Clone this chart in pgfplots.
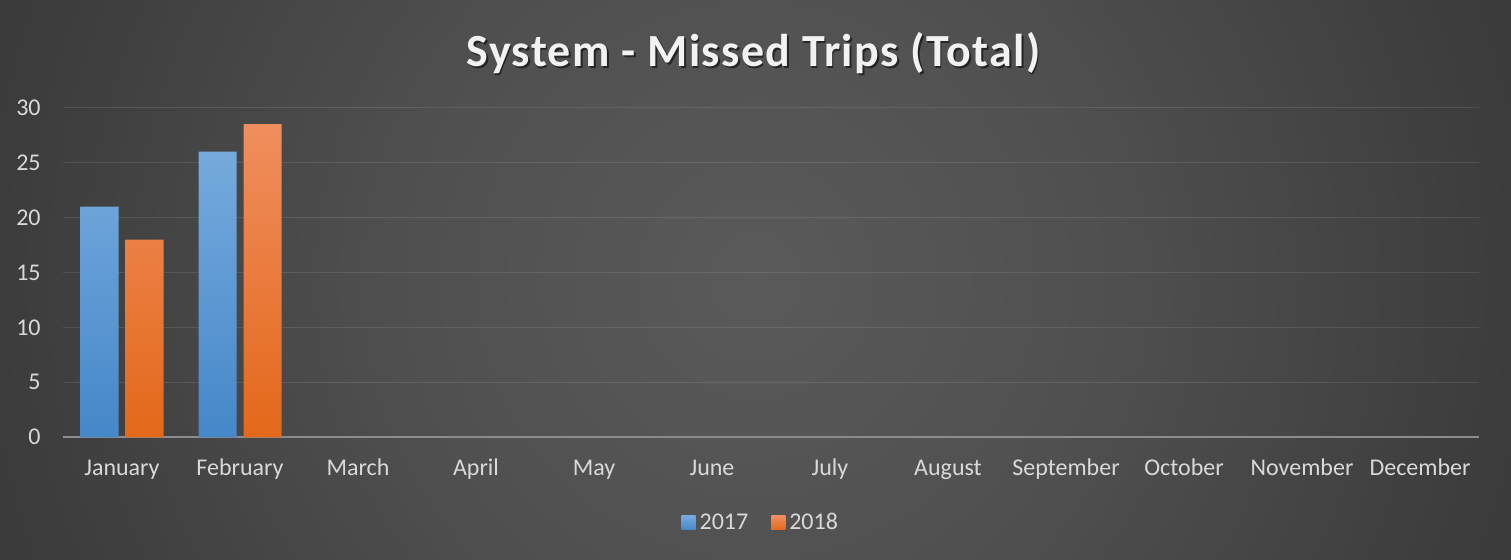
\documentclass[border=0pt]{standalone}
\usepackage{fontspec}
\setmainfont{Carlito}
\newfontfamily\titlefont[LetterSpace=3]{Carlito}
\usepackage{pgfplots}
\pgfplotsset{compat=1.18}

\definecolor{bgA}{HTML}{5A5A5A}
\definecolor{bgB}{HTML}{4F4F4F}
\definecolor{bgC}{HTML}{3C3C3C}
\definecolor{bgD}{HTML}{2C2C2C}
\definecolor{bgE}{HTML}{262626}
\definecolor{bgF}{HTML}{222222}
\definecolor{lbl}{HTML}{D9D9D9}
\definecolor{axisc}{HTML}{8C8C8C}
\definecolor{blueT}{HTML}{76AADD}
\definecolor{blueB}{HTML}{4587C9}
\definecolor{orT}{HTML}{F08E5E}
\definecolor{orB}{HTML}{E3681A}
\pgfdeclareradialshading{bgshade}{\pgfpoint{0bp}{0bp}}{color(0bp)=(bgA); color(12bp)=(bgB); color(25bp)=(bgC); color(40bp)=(bgD); color(50bp)=(bgE); color(72bp)=(bgF)}

\begin{document}
\begin{tikzpicture}
\path[use as bounding box] (0pt,0pt) rectangle (755.5pt,280pt);
\begin{scope}
  \clip (0pt,0pt) rectangle (755.5pt,280pt);
  \shade[shading=bgshade] (-2.25pt,-240pt) rectangle (757.75pt,520pt);
\end{scope}
% title with a soft shadow
\node[anchor=base, text=black, opacity=0.55, font=\titlefont\bfseries\fontsize{23}{28}\selectfont]
  at (377.6pt,245.7pt) {System - Missed Trips (Total)};
\node[anchor=base, text=white!95!black, font=\titlefont\bfseries\fontsize{23}{28}\selectfont]
  at (376.75pt,246.5pt) {System - Missed Trips (Total)};

\begin{axis}[
  at={(31.5pt,61.35pt)}, anchor=south west,
  scale only axis, width=708pt, height=164.8pt,
  ymin=0, ymax=30, ytick={0,5,...,30},
  xmin=-0.5, xmax=11.5, xtick={0,...,11},
  xticklabels={January,February,March,April,May,June,July,August,September,October,November,December},
  ybar=3.5pt, bar width=19pt,
  axis line style={draw=none},
  tick style={draw=none},
  ymajorgrids,
  major grid style={white, opacity=0.1, line width=0.8pt},
  extra y ticks={0}, extra y tick labels={},
  extra y tick style={major grid style={draw=axisc, opacity=1, line width=1pt}},
  ticklabel style={font=\fontsize{12}{14}\selectfont, text=lbl},
  yticklabel style={inner sep=0pt, xshift=-11pt},
  xticklabel style={anchor=base, inner sep=0pt, yshift=-14.85pt},
  /pgf/number format/assume math mode=true,
  legend style={at={(0.4935,-0.26)}, anchor=center, draw=none, fill=none,
    legend columns=2, font=\fontsize{12}{14}\selectfont, text=lbl,
    /tikz/every even column/.append style={column sep=9.5pt}},
]
\addplot[draw=none, top color=blueT, bottom color=blueB,
  legend image code/.code={\fill[blueB!80!blueT] (0pt,-3.5pt) rectangle (7pt,3.5pt);}]
  coordinates {(0,21) (1,26)};
\addplot[draw=none, top color=orT, bottom color=orB,
  legend image code/.code={\fill[orB!75!orT] (0pt,-3.5pt) rectangle (7pt,3.5pt);}]
  coordinates {(0,18) (1,28.5)};
\legend{2017,2018}
\end{axis}
\end{tikzpicture}
\end{document}
